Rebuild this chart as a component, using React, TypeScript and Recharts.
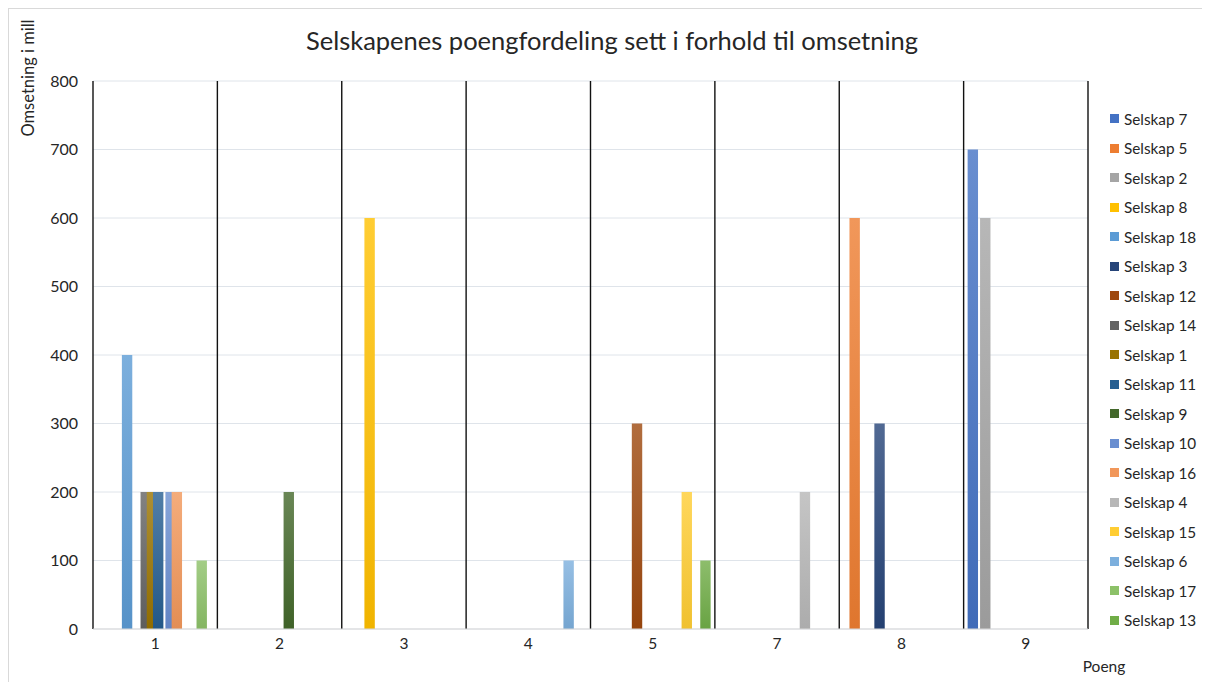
import React from 'react';
import { BarChart, Bar, XAxis, YAxis, CartesianGrid, Label } from 'recharts';

// Points awarded (x categories)
const CATEGORIES: string[] = ['1', '2', '3', '4', '5', '7', '8', '9'];

// Company names, in series order
const SERIES_NAMES: string[] = [
  'Selskap 7', 'Selskap 5', 'Selskap 2', 'Selskap 8', 'Selskap 18', 'Selskap 3',
  'Selskap 12', 'Selskap 14', 'Selskap 1', 'Selskap 11', 'Selskap 9', 'Selskap 10',
  'Selskap 16', 'Selskap 4', 'Selskap 15', 'Selskap 6', 'Selskap 17', 'Selskap 13',
];

// Base colour of each series
const SERIES_COLORS: string[] = [
  '#4472C4', '#ED7D31', '#A5A5A5', '#FFC000', '#5B9BD5', '#264478',
  '#9E480E', '#636363', '#997300', '#255E91', '#43682B', '#698ED0',
  '#F1975A', '#B7B7B7', '#FFCD33', '#7CAFDD', '#8CC168', '#70AD47',
];

// Turnover (mill) per company, one entry per point category
const SERIES_VALUES: (number | null)[][] = [
  [null, null, null, null, null, null, null, 700], // Selskap 7
  [null, null, null, null, null, null, 600, null], // Selskap 5
  [null, null, null, null, null, null, null, 600], // Selskap 2
  [null, null, 600, null, null, null, null, null], // Selskap 8
  [400, null, null, null, null, null, null, null], // Selskap 18
  [null, null, null, null, null, null, 300, null], // Selskap 3
  [null, null, null, null, 300, null, null, null], // Selskap 12
  [200, null, null, null, null, null, null, null], // Selskap 14
  [200, null, null, null, null, null, null, null], // Selskap 1
  [200, null, null, null, null, null, null, null], // Selskap 11
  [null, 200, null, null, null, null, null, null], // Selskap 9
  [200, null, null, null, null, null, null, null], // Selskap 10
  [200, null, null, null, null, null, null, null], // Selskap 16
  [null, null, null, null, null, 200, null, null], // Selskap 4
  [null, null, null, null, 200, null, null, null], // Selskap 15
  [null, null, null, 100, null, null, null, null], // Selskap 6
  [100, null, null, null, null, null, null, null], // Selskap 17
  [null, null, null, null, 100, null, null, null], // Selskap 13
];

const Y_TICKS: number[] = [0, 100, 200, 300, 400, 500, 600, 700, 800];

const TITLE = 'Selskapenes poengfordeling sett i forhold til omsetning';
const Y_TITLE = 'Omsetning i mill';
const X_TITLE = 'Poeng';

const FONT = 'Lato, "Liberation Sans", Arial, sans-serif';
const TEXT_COLOR = '#262626';

const data = CATEGORIES.map((cat, ci) => {
  const row: Record<string, string | number | null> = { poeng: cat };
  SERIES_NAMES.forEach((name, si) => {
    row[name] = SERIES_VALUES[si][ci];
  });
  return row;
});

function mix(hex: string, target: number, t: number): string {
  const n = parseInt(hex.slice(1), 16);
  const ch = [(n >> 16) & 255, (n >> 8) & 255, n & 255].map((c) =>
    Math.round(c + (target - c) * t)
  );
  return '#' + ch.map((c) => c.toString(16).padStart(2, '0')).join('');
}

const gradId = (i: number) => `bar-grad-${i}`;

// Black separators at every category boundary
const boundaryLines = (props: any) => {
  const { offset } = props;
  const n = CATEGORIES.length;
  return Array.from({ length: n + 1 }, (_, i) => offset.left + (i * offset.width) / n);
};

export default function App() {
  return (
    <div
      style={{
        position: 'relative',
        width: 1202,
        height: 674,
        boxSizing: 'border-box',
        borderTop: '1px solid #d9d9d9',
        borderLeft: '1px solid #d9d9d9',
        background: '#fff',
        fontFamily: FONT,
      }}
    >
      <div
        style={{
          position: 'absolute',
          left: 103,
          top: 15,
          width: 1000,
          textAlign: 'center',
          fontSize: 25.5,
          lineHeight: '32px',
          color: TEXT_COLOR,
        }}
      >
        {TITLE}
      </div>

      <BarChart
        width={1200}
        height={672}
        data={data}
        margin={{ top: 72, right: 121, bottom: 22, left: 0 }}
        barSize={10.4}
        barGap={-4.18}
      >
        <defs>
          {SERIES_COLORS.map((c, i) => (
            <linearGradient key={i} id={gradId(i)} x1="0" y1="0" x2="0" y2="1">
              <stop offset="0%" stopColor={mix(c, 255, 0.2)} />
              <stop offset="100%" stopColor={mix(c, 0, 0.06)} />
            </linearGradient>
          ))}
        </defs>
        <CartesianGrid vertical={false} stroke="#dfe4ea" strokeWidth={1} />
        <CartesianGrid
          horizontal={false}
          stroke="#111"
          strokeWidth={1.4}
          verticalCoordinatesGenerator={boundaryLines}
        />
        <XAxis
          dataKey="poeng"
          height={30}
          axisLine={{ stroke: '#d9d9d9' }}
          tickLine={false}
          tickSize={6}
          tickMargin={3}
          tick={{ fill: TEXT_COLOR, fontSize: 15.5, fontFamily: FONT }}
        >
          <Label
            content={() => (
              <text
                x={1095}
                y={657}
                textAnchor="middle"
                dominantBaseline="central"
                fill={TEXT_COLOR}
                fontSize={15.5}
                fontFamily={FONT}
              >
                {X_TITLE}
              </text>
            )}
          />
        </XAxis>
        <YAxis
          width={84}
          domain={[0, 800]}
          ticks={Y_TICKS}
          axisLine={false}
          tickLine={false}
          tickSize={6}
          tickMargin={9}
          tick={{ fill: TEXT_COLOR, fontSize: 16, fontFamily: FONT }}
        >
          <Label
            content={() => (
              <text
                x={19}
                y={69}
                transform="rotate(-90, 19, 69)"
                textAnchor="middle"
                dominantBaseline="central"
                fill={TEXT_COLOR}
                fontSize={16.5}
                fontFamily={FONT}
              >
                {Y_TITLE}
              </text>
            )}
          />
        </YAxis>
        {SERIES_NAMES.map((name, i) => (
          <Bar
            key={name}
            dataKey={name}
            name={name}
            fill={`url(#${gradId(i)})`}
            isAnimationActive={false}
          />
        ))}
      </BarChart>

      <div style={{ position: 'absolute', left: 1101, top: 95, color: TEXT_COLOR }}>
        {SERIES_NAMES.map((name, i) => (
          <div
            key={name}
            style={{
              height: 29.5,
              display: 'flex',
              alignItems: 'center',
              fontSize: 15.3,
              whiteSpace: 'nowrap',
            }}
          >
            <span
              style={{
                display: 'inline-block',
                width: 9,
                height: 9,
                background: SERIES_COLORS[i],
                marginRight: 5,
              }}
            />
            {name}
          </div>
        ))}
      </div>
    </div>
  );
}
